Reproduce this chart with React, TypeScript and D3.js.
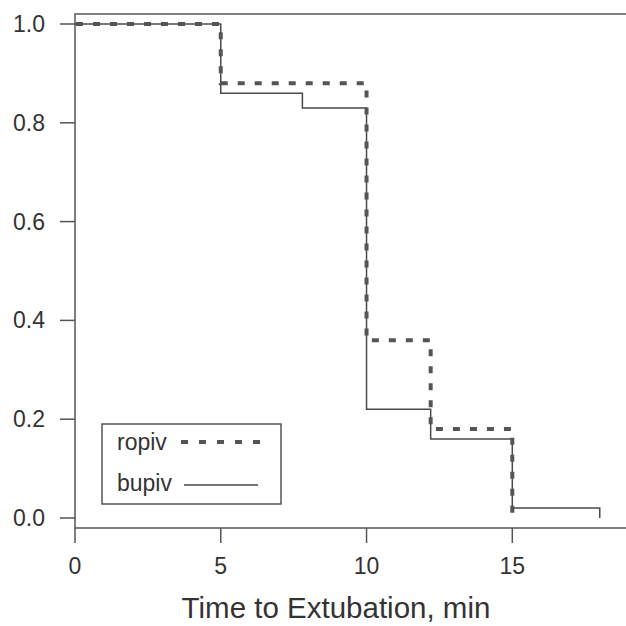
import React from "react";
import * as d3 from "d3";

const ropivTimes = [0, 5, 10, 12.2, 15];
const ropivSurv = [1.0, 0.88, 0.36, 0.18, 0.0];
const bupivTimes = [0, 5, 7.8, 10, 12.2, 15, 18];
const bupivSurv = [1.0, 0.86, 0.83, 0.22, 0.16, 0.02, 0.0];
const xTicks = [0, 5, 10, 15];
const yTicks = [0.0, 0.2, 0.4, 0.6, 0.8, 1.0];
const legendLabels = ["ropiv", "bupiv"];
const xTitle = "Time to Extubation, min";

export default function App() {
  const W = 626, H = 626;
  const left = 75, top = 14, bottom = 528, right = 640;
  const x = d3.scaleLinear().domain([0, 15]).range([75, 512.3]);
  const y = d3.scaleLinear().domain([0, 1]).range([518, 24]);
  const line = d3.line<[number, number]>().x(d => x(d[0])).y(d => y(d[1])).curve(d3.curveStepAfter);
  const rop: [number, number][] = ropivTimes.map((t, i) => [t, ropivSurv[i]]);
  const bup: [number, number][] = bupivTimes.map((t, i) => [t, bupivSurv[i]]);
  const font = "'Liberation Sans', Arial, Helvetica, sans-serif";
  const axisCol = "#555";
  return (
    <svg width={W} height={H} style={{ position: "absolute", left: 0, top: 0, background: "#fff" }} fontFamily={font}>
      <rect x={left} y={top} width={right - left} height={bottom - top} fill="none" stroke={axisCol} strokeWidth={1.5} />
      {yTicks.map(v => (
        <g key={"y" + v}>
          <line x1={60} x2={left} y1={y(v)} y2={y(v)} stroke={axisCol} strokeWidth={1.5} />
          <text x={45} y={y(v)} dy="0.35em" textAnchor="end" fontSize={23} fill="#333">{v.toFixed(1)}</text>
        </g>
      ))}
      {xTicks.map(v => (
        <g key={"x" + v}>
          <line x1={x(v)} x2={x(v)} y1={bottom} y2={543} stroke={axisCol} strokeWidth={1.5} />
          <text x={x(v)} y={574} textAnchor="middle" fontSize={23} fill="#333">{v}</text>
        </g>
      ))}
      <text x={336} y={618} textAnchor="middle" fontSize={29.5} fill="#333">{xTitle}</text>
      <path d={line(bup) || ""} fill="none" stroke="#4a4a4a" strokeWidth={1.5} />
      <path d={line(rop) || ""} fill="none" stroke="#555" strokeWidth={4} strokeDasharray="7,10" strokeDashoffset={-1} />
      <rect x={102} y={424} width={179} height={80} fill="#fff" stroke={axisCol} strokeWidth={1.5} />
      <text x={117} y={450} fontSize={23} fill="#333">{legendLabels[0]}</text>
      <text x={117} y={491} fontSize={23} fill="#333">{legendLabels[1]}</text>
      <line x1={181} x2={260} y1={442} y2={442} stroke="#555" strokeWidth={4} strokeDasharray="7,11" />
      <line x1={184} x2={258} y1={485} y2={485} stroke="#4a4a4a" strokeWidth={1.5} />
    </svg>
  );
}
